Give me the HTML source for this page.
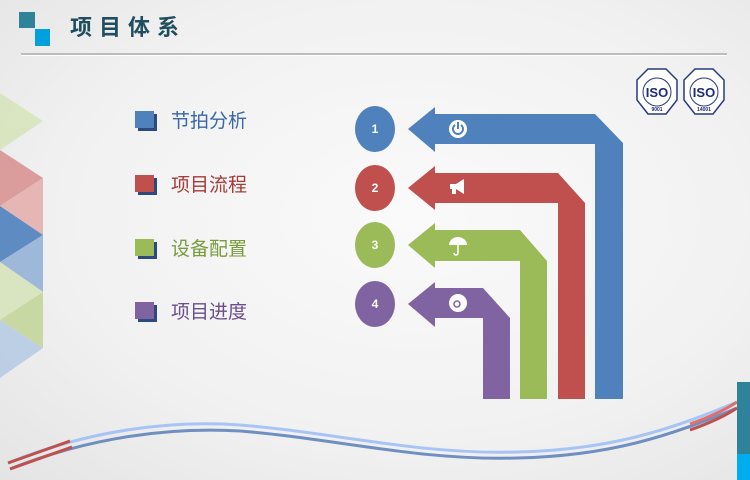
<!DOCTYPE html>
<html><head><meta charset="utf-8"><style>
html,body{margin:0;padding:0}
body{width:750px;height:480px;overflow:hidden;position:relative;background:radial-gradient(ellipse at 55% 45%,#fafafa 0%,#f1f1f1 60%,#e4e4e4 100%);font-family:"Liberation Sans","Noto Sans CJK SC",sans-serif}
.t{position:absolute;font-size:19px;left:171px;line-height:22px}
.sq{position:absolute;left:135px;width:19px;height:17px;box-shadow:3px 3px 0 #2a4a80}
</style></head><body>
<div style="position:absolute;left:19px;top:12px;width:16px;height:16px;background:#2e8299"></div>
<div style="position:absolute;left:35px;top:29px;width:15px;height:17px;background:#00a0dc"></div>
<div style="position:absolute;left:70px;top:14px;font-size:22px;font-weight:bold;color:#1f4e5f;letter-spacing:7px;line-height:28px">项目体系</div>
<div style="position:absolute;left:21px;top:53px;width:706px;height:2px;background:#bcbcbc;border-bottom:1px solid #fff"></div>

<div class="sq" style="top:111px;background:#4f81bd"></div><div class="t" style="top:111px;color:#3a68a8">节拍分析</div>
<div class="sq" style="top:175px;background:#c0504d"></div><div class="t" style="top:175px;color:#a83a37">项目流程</div>
<div class="sq" style="top:239px;background:#9bbb59"></div><div class="t" style="top:239px;color:#7a9c3c">设备配置</div>
<div class="sq" style="top:302px;background:#8064a2"></div><div class="t" style="top:302px;color:#6a4e8c">项目进度</div>

<svg width="750" height="480" style="position:absolute;left:0;top:0" xmlns="http://www.w3.org/2000/svg">
<g opacity="0.9">
<polygon points="0,93 43,121 0,150" fill="#d7e4bd"/>
<polygon points="0,150 43,178 0,206" fill="#d99594"/>
<polygon points="43,178 43,235 0,206" fill="#e6b0af"/>
<polygon points="0,206 43,235 0,262" fill="#4f81bd"/>
<polygon points="43,235 43,292 0,262" fill="#95b3d7"/>
<polygon points="0,262 43,292 0,320" fill="#d7e4bd"/>
<polygon points="43,292 43,348 0,320" fill="#c3d69b"/>
<polygon points="0,320 43,348 0,378" fill="#b8cce4"/>
</g>
<polygon points="408,129 435,107 435,114 595,114 623,143 623,399 595,399 595,144 435,144 435,152" fill="#4f81bd"/>
<polygon points="408,188 435,166 435,173 558,173 585,203 585,399 558,399 558,203 435,203 435,210" fill="#c0504d"/>
<polygon points="408,245 435,223 435,230 520,230 547,261 547,399 520,399 520,261 435,261 435,268" fill="#9bbb59"/>
<polygon points="408,304 435,282 435,288 483,288 510,318 510,399 483,399 483,318 435,318 435,327" fill="#8064a2"/>
<ellipse cx="375" cy="129" rx="20" ry="23" fill="#4f81bd"/>
<ellipse cx="375" cy="188" rx="20" ry="23" fill="#c0504d"/>
<ellipse cx="375" cy="245" rx="20" ry="23" fill="#9bbb59"/>
<ellipse cx="375" cy="304" rx="20" ry="23" fill="#8064a2"/>
<g fill="#fff" font-size="12" font-weight="bold" text-anchor="middle" font-family="Liberation Sans">
<text x="375" y="133">1</text><text x="375" y="192">2</text><text x="375" y="249">3</text><text x="375" y="308">4</text>
</g>
<circle cx="458" cy="129" r="9" fill="#fff"/>
<path d="M455,125 a5,5 0 1 0 6,0" stroke="#4f81bd" stroke-width="2" fill="none"/><line x1="458" y1="122" x2="458" y2="129" stroke="#4f81bd" stroke-width="2"/>
<polygon points="450,184 456,184 464,179 464,194 456,189 450,189" fill="#fff"/><rect x="452" y="189" width="4" height="5" fill="#fff"/>
<path d="M449,245 a9,8 0 0 1 18,0 z" fill="#fff"/><path d="M458,245 v8 a2,2 0 0 1 -4,0" stroke="#fff" stroke-width="1.5" fill="none"/>
<circle cx="458" cy="303" r="9" fill="#fff"/><circle cx="457" cy="304" r="3" fill="none" stroke="#8064a2" stroke-width="1.5"/>
<path d="M8,463 C90,430 170,420 240,425 C330,432 420,455 517,452 C610,450 670,430 737,402" stroke="#a8c4f4" stroke-width="3" fill="none"/>
<path d="M10,469 C90,437 170,427 240,431 C330,438 420,461 517,458 C610,456 670,436 737,408" stroke="#6f8fc0" stroke-width="3" fill="none"/>
<path d="M8,463 C30,455 50,448 70,441" stroke="#c0504d" stroke-width="3" fill="none"/>
<path d="M10,469 C32,461 52,454 72,447" stroke="#c0504d" stroke-width="3" fill="none"/>
<path d="M690,424 C710,417 725,410 737,402" stroke="#e07070" stroke-width="3" fill="none"/>
<path d="M690,430 C710,423 725,416 737,408" stroke="#c0504d" stroke-width="3" fill="none"/>
<g>
<polygon points="648,69 666,69 677,80 677,100 666,114 648,114 637,100 637,80" fill="#fff" stroke="#2a3a80" stroke-width="1.5"/>
<circle cx="657" cy="92" r="14" fill="none" stroke="#2a3a80" stroke-width="1"/>
<text x="657" y="97" font-size="13" font-weight="bold" fill="#1e2a7a" text-anchor="middle" font-family="Liberation Sans">ISO</text>
<text x="657" y="111" font-size="5" font-weight="bold" fill="#1e2a7a" text-anchor="middle" font-family="Liberation Sans">9001</text>
<polygon points="695,69 713,69 724,80 724,100 713,114 695,114 684,100 684,80" fill="#fff" stroke="#2a3a80" stroke-width="1.5"/>
<circle cx="704" cy="92" r="14" fill="none" stroke="#2a3a80" stroke-width="1"/>
<text x="704" y="97" font-size="13" font-weight="bold" fill="#1e2a7a" text-anchor="middle" font-family="Liberation Sans">ISO</text>
<text x="704" y="111" font-size="5" font-weight="bold" fill="#1e2a7a" text-anchor="middle" font-family="Liberation Sans">14001</text>
</g>
<rect x="737" y="382" width="13" height="72" fill="#2e8299"/>
<rect x="737" y="454" width="13" height="26" fill="#00aeef"/>
</svg>
</body></html>
